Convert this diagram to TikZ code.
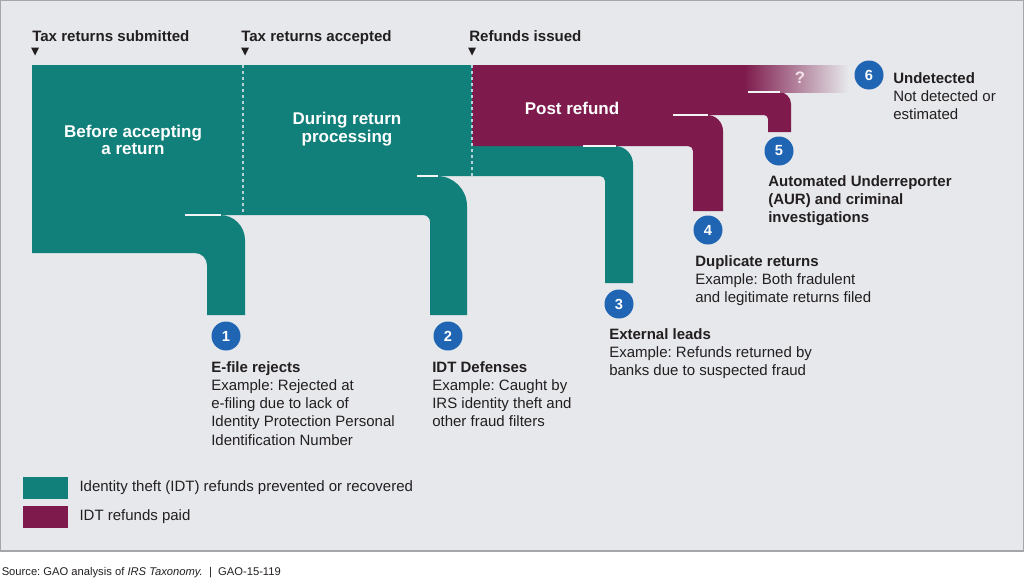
\documentclass[tikz,border=0pt]{standalone}
\usepackage{fontspec}
\setmainfont{Liberation Sans}
\frenchspacing
\usetikzlibrary{positioning}
\definecolor{KeptMain}{HTML}{117F7A}
\definecolor{PaidMain}{HTML}{7E1A4C}
\definecolor{BadgeBlue}{HTML}{1F65B3}
\definecolor{PanelFill}{HTML}{E6E8EB}
\definecolor{PanelBord}{HTML}{A3A6AA}
\definecolor{StageDot}{HTML}{B7D2D8}
\definecolor{SeamLine}{HTML}{F2F4F5}
\definecolor{Ink}{HTML}{231F20}
\definecolor{QMark}{HTML}{F3E3EA}
\tikzset{
  hdr/.style={font=\fontsize{11.3}{13}\selectfont\bfseries, text=Ink, anchor=base west, inner sep=0pt},
  phase/.style={font=\fontsize{12.75}{13}\selectfont\bfseries, text=white, align=center, inner sep=0pt},
  qmark/.style={font=\fontsize{12.5}{13}\selectfont\bfseries, text=QMark, inner sep=0pt},
  badge/.style={circle, fill=BadgeBlue, text=white, inner sep=0pt, minimum size=21.75pt,
                font=\fontsize{11}{12}\selectfont\bfseries},
  note/.style={font=\fontsize{11.25}{13.7}\selectfont, text=Ink, align=left, anchor=north west, inner sep=0pt},
  seam/.style={draw=SeamLine, line width=1pt},
  stageline/.style={draw=StageDot, line width=1.5pt, dash pattern=on 2.25pt off 2.25pt},
  swatch/.style={rectangle, minimum width=33.75pt, minimum height=16.5pt, inner sep=0pt},
  keytxt/.style={font=\fontsize{11.25}{13}\selectfont, text=Ink, inner sep=0pt},
  src/.style={font=\fontsize{8.4}{10}\selectfont, text=Ink, anchor=base west, inner sep=0pt},
}
\begin{document}
\begin{tikzpicture}[x=0.75pt,y=-0.75pt]
\useasboundingbox (0,0) rectangle (1024,578);

% ---------------- panel ----------------------------------------------------------
\fill[PanelFill] (0,0) rectangle (1024,551);
\draw[PanelBord, line width=0.9pt] (0.6,0.6) rectangle (1023.4,551);

% ---------------- stage markers -------------------------------------------------
\foreach \x/\t/\tx [count=\i] in {35/Tax returns submitted/32, 245/Tax returns accepted/241, 472/Refunds issued/469}{
  \node[hdr] (hdr\i) at (\tx,41.5) {\t};
  \fill[Ink] (\x-4,47.5) -- (\x+4,47.5) -- (\x,55.5) -- cycle;}

% ---------------- flows -----------------------------------------------------------
\fill[KeptMain] (32,65) rectangle (472,146);
\foreach \xs/\yt/\yb/\xi/\xo/\ye/\ro/\ri/\col in {
    32/215/253/207/245/315/25/12/KeptMain,
    32/176/215/430/467/315/30/7/KeptMain,
    32/146/176/605/633/283/18/5/KeptMain,
    472/115/146/693/723/211/16/5/PaidMain,
    472/92/115/768/791/132/12/4/PaidMain}{
  \fill[\col] (\xs,\yt) -- (\xo-\ro,\yt) arc[start angle=90, end angle=0, radius=\ro*0.75pt]
    -- (\xo,\ye) -- (\xi,\ye) -- (\xi,\yb+\ri) arc[start angle=0, end angle=90, radius=\ri*0.75pt]
    -- (\xs,\yb) -- cycle;}
% undetected: fades out
\fill[PaidMain] (472,65) rectangle (745,92);
\shade[left color=PaidMain, right color=PanelFill] (744,65) rectangle (848,92);

\foreach \xa/\xb/\y in {185/221/215, 417/438/176, 583/616/146, 673/708/115, 748/780/92}
  \draw[seam] (\xa,\y) -- (\xb,\y);
\draw[stageline] (243,65) -- (243,215);
\draw[stageline] (472,65) -- (472,176);

\node[phase] (pre) at (133,140) {Before accepting\\a return};
\node[phase] (during) at (347,129) {During return\\processing};
\node[phase] (post) at (572,108) {Post refund};
\node[qmark] (unk) at (800,78) {?};

% ---------------- outcomes --------------------------------------------------------
\foreach \n/\x/\y in {1/226/336, 2/448/336, 3/619/304, 4/708/230, 5/779/151, 6/869/75}
  \node[badge] (b\n) at (\x,\y) {\n};

\node[note] (n1) at (211,361) {\textbf{E-file rejects}\\Example: Rejected at\\e-filing due to lack of\\Identity Protection Personal\\Identification Number};
\node[note] (n2) at (432,361) {\textbf{IDT Defenses}\\Example: Caught by\\IRS identity theft and\\other fraud filters};
\node[note] (n3) at (609,328) {\textbf{External leads}\\Example: Refunds returned by\\banks due to suspected fraud};
\node[note] (n4) at (695,255) {\textbf{Duplicate returns}\\Example: Both fradulent\\and legitimate returns filed};
\node[note, font=\fontsize{11.25}{13.7}\selectfont\bfseries] (n5) at (768,175) {Automated Underreporter\\(AUR) and criminal\\investigations};
\node[note] (n6) at (893,72) {\textbf{Undetected}\\Not detected or\\estimated};

% ---------------- legend ------------------------------------------------------------
\node[swatch, fill=KeptMain] (kkey) at (45.5,488) {};
\node[keytxt, right=8.25pt of kkey] (ktxt) {Identity theft (IDT) refunds prevented or recovered};
\node[swatch, fill=PaidMain] (pkey) at (45.5,517) {};
\node[keytxt, right=8.25pt of pkey] (ptxt) {IDT refunds paid};

\node[src] (src) at (1.5,575) {Source: GAO analysis of \textit{IRS Taxonomy.}\ \ |\ \ GAO-15-119};

\end{tikzpicture}
\end{document}
